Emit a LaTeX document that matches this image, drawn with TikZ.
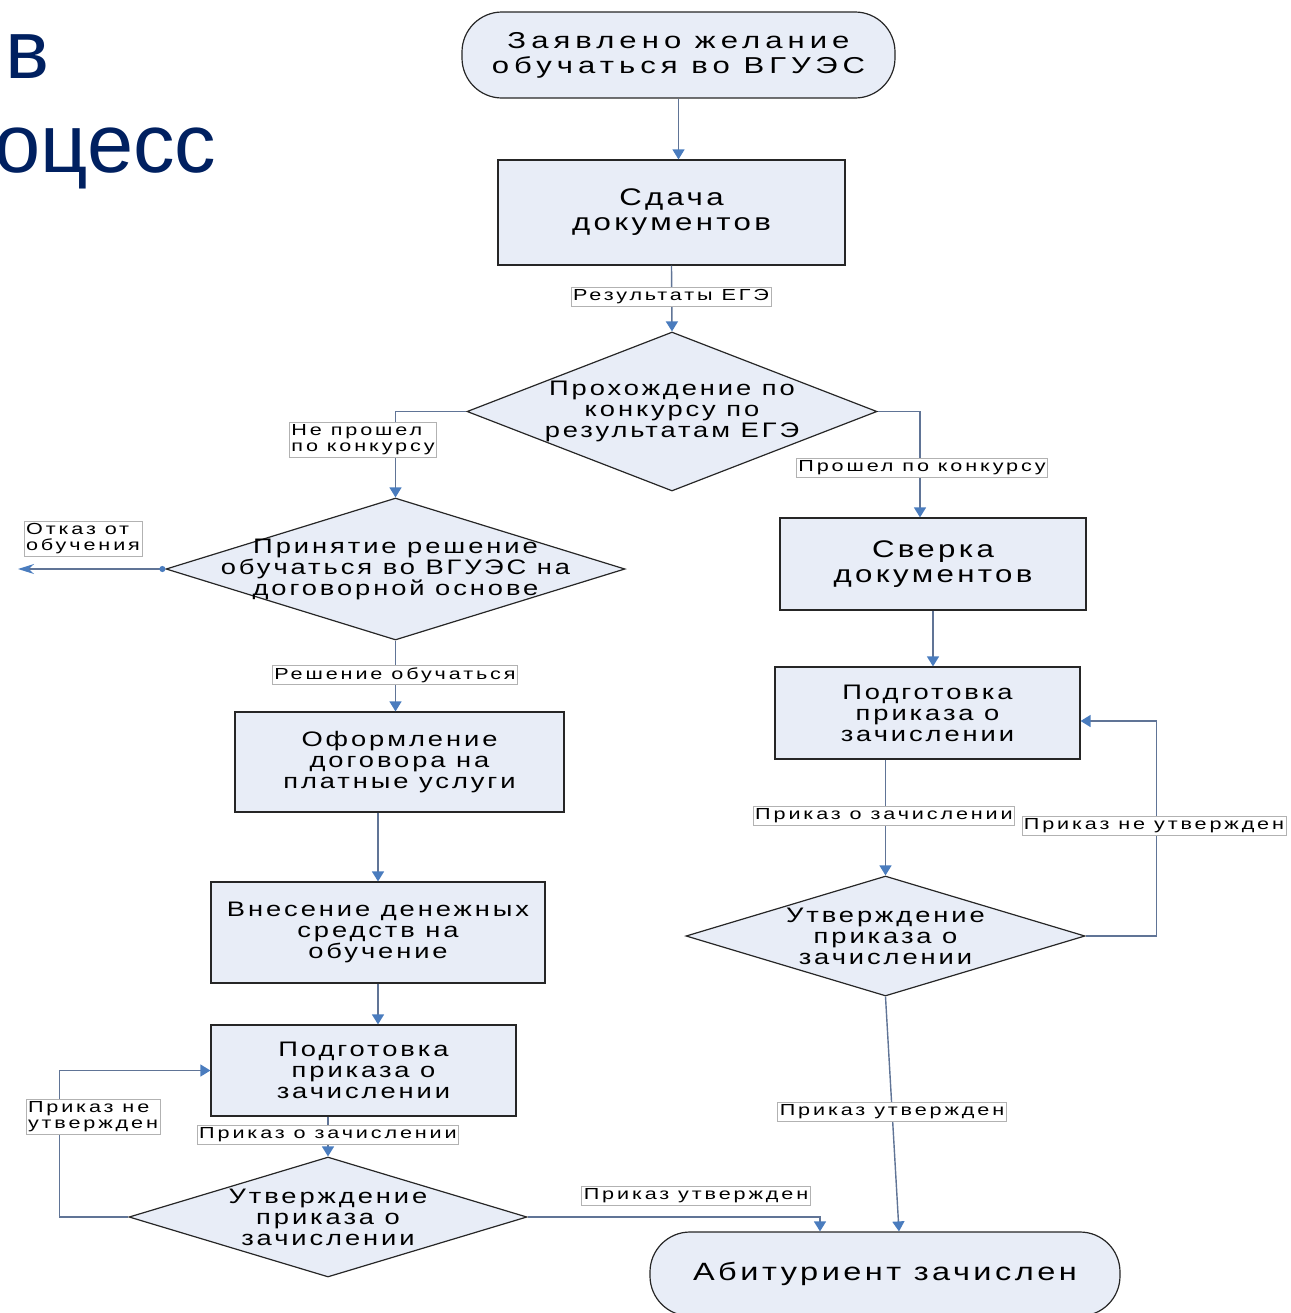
\documentclass[tikz,border=0pt]{standalone}
\usepackage{fontspec}
\setmainfont{Liberation Sans}
\newfontfamily\wideface[FakeStretch=1.3,LetterSpace=14]{Liberation Sans}
\newfontfamily\termface[FakeStretch=1.35,LetterSpace=22]{Liberation Sans}
\newfontfamily\tagface[FakeStretch=1.35,LetterSpace=18]{Liberation Sans}
\usetikzlibrary{arrows.meta,shapes.geometric}
\definecolor{boxfill}{RGB}{232,237,247}
\definecolor{linkline}{RGB}{96,116,150}
\definecolor{tipblue}{RGB}{74,124,190}
\definecolor{titlenavy}{RGB}{0,32,96}

\begin{document}
\begin{tikzpicture}[x=0.5pt,y=-0.5pt,>={Triangle[width=6pt,length=5pt,color=tipblue]},
  every node/.style={align=center},
  shapeline/.style={draw=black!85,fill=boxfill,line width=0.6pt},
  terminal/.style={shapeline,rounded corners=20pt,font=\termface\fontsize{11.5}{12.5}\selectfont},
  process/.style={shapeline,rectangle,font=\wideface\fontsize{10.5}{10.5}\selectfont},
  bigprocess/.style={process,font=\wideface\fontsize{12}{12.5}\selectfont},
  decision/.style={shapeline,diamond,inner sep=0pt},
  boxtext/.style={inner sep=0pt,font=\wideface\fontsize{10.5}{10.5}\selectfont},
  tag/.style={draw=black!30,fill=white,inner sep=1pt,font=\tagface\fontsize{8}{8}\selectfont},
  flow/.style={draw=linkline,line width=0.7pt,->}]
  \newcommand*{\Px}{0.5pt}
  \useasboundingbox (0,0) rectangle (1291,1313);

  % title fragment, cut at the left edge
  \node[anchor=base west,inner sep=0pt,text=titlenavy,font=\fontsize{41.5}{41.5}\selectfont] (titleA) at (5,78) {в};
  \node[anchor=base west,inner sep=0pt,text=titlenavy,font=\fontsize{41.5}{41.5}\selectfont] (titleB) at (-6,172) {оцесс};

  % main column
  \node[terminal,minimum width=433*\Px,minimum height=86*\Px] (start) at (678.5,55) {Заявлено желание\\обучаться во ВГУЭС};
  \node[bigprocess,minimum width=347*\Px,minimum height=105*\Px] (docs) at (671.5,212.5) {Сдача\\документов};
  \node[decision,minimum width=410*\Px,minimum height=159*\Px] (d1) at (672,411.5) {};
  \node[boxtext] (d1text) at (d1) {Прохождение по\\конкурсу по\\результатам ЕГЭ};

  % left branch
  \node[decision,minimum width=459*\Px,minimum height=142*\Px] (d2) at (395.5,569) {};
  \node[boxtext] (d2text) at (d2) {Принятие решение\\обучаться во ВГУЭС на\\договорной основе};
  \coordinate (refuse) at (18,569);
  \node[process,minimum width=329*\Px,minimum height=100*\Px] (contract) at (399.5,762) {Оформление\\договора на\\платные услуги};
  \node[process,minimum width=334*\Px,minimum height=101*\Px] (pay) at (378,932.5) {Внесение денежных\\средств на\\обучение};
  \node[process,minimum width=305*\Px,minimum height=91*\Px] (orderL) at (363.5,1070.5) {Подготовка\\приказа о\\зачислении};
  \node[decision,minimum width=398*\Px,minimum height=120*\Px] (appL) at (328,1217) {};
  \node[boxtext] (appLtext) at (appL) {Утверждение\\приказа о\\зачислении};

  % right branch
  \node[bigprocess,minimum width=306*\Px,minimum height=92*\Px] (check) at (933,564) {Сверка\\документов};
  \node[process,minimum width=305*\Px,minimum height=92*\Px] (orderR) at (927.5,713) {Подготовка\\приказа о\\зачислении};
  \node[decision,minimum width=399*\Px,minimum height=120*\Px] (appR) at (885.5,936) {};
  \node[boxtext] (appRtext) at (appR) {Утверждение\\приказа о\\зачислении};
  \node[terminal,minimum width=470*\Px,minimum height=84*\Px,font=\wideface\fontsize{12.5}{12.5}\selectfont] (enrolled) at (885,1274) {Абитуриент зачислен};

  % connectors
  \draw[flow] (start.south) -- (start.south |- docs.north);
  \draw[flow] (docs.south) -- (d1.north);
  \draw[flow] (d1.west) -| (d2.north);
  \draw[flow] (d1.east) -| ([xshift=-6.5pt]check.north);
  \draw[flow,{Circle[length=3pt,color=tipblue]}-{Stealth[length=8pt,width=5pt,color=tipblue]}] (d2.west) -- (refuse);
  \draw[flow] (d2.south) -- (d2.south |- contract.north);
  \draw[flow] (pay.north |- contract.south) -- (pay.north);
  \draw[flow] (pay.south) -- (pay.south |- orderL.north);
  \draw[flow] (appL.north |- orderL.south) -- (appL.north);
  \draw[flow] (appL.west) -- ++(-69,0) |- (orderL.west);
  \draw[flow] (appL.east) -| ([xshift=-32.5pt]enrolled.north);
  \draw[flow] (check.south) -- (check.south |- orderR.north);
  \draw[flow] (appR.north |- orderR.south) -- (appR.north);
  \draw[flow] (appR.east) -- ++(71,0) |- ([yshift=-4pt]orderR.east);
  \draw[flow] (appR.south) -- ([xshift=7pt]enrolled.north);

  % connector labels
  \node[tag] (tagRes) at (671,297) {Результаты ЕГЭ};
  \node[tag,align=left] (tagFail) at (363,440) {Не прошел\\по конкурсу};
  \node[tag] (tagPass) at (922,468) {Прошел по конкурсу};
  \node[tag,align=left] (tagRefuse) at (83,539) {Отказ от\\обучения};
  \node[tag] (tagDecide) at (395,675) {Решение обучаться};
  \node[tag] (tagOrderL) at (328,1135) {Приказ о зачислении};
  \node[tag,align=left] (tagRejL) at (93,1117) {Приказ не\\утвержден};
  \node[tag] (tagOkL) at (696,1196) {Приказ утвержден};
  \node[tag] (tagOrderR) at (884,816) {Приказ о зачислении};
  \node[tag] (tagRejR) at (1154,826) {Приказ не утвержден};
  \node[tag] (tagOkR) at (892,1112) {Приказ утвержден};
\end{tikzpicture}
\end{document}
